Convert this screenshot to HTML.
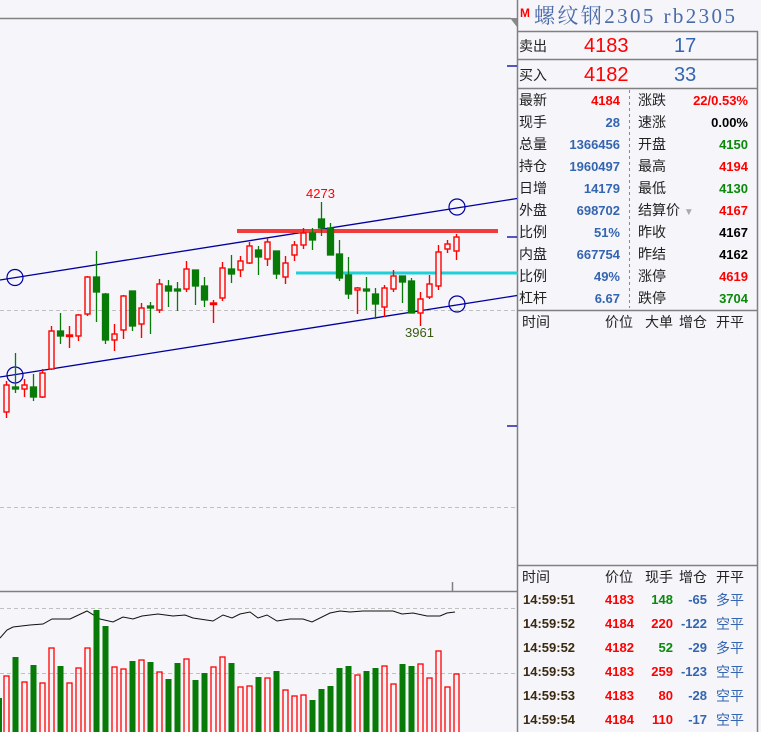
<!DOCTYPE html>
<html><head><meta charset="utf-8"><style>
body{margin:0;width:761px;height:732px;background:#f5f5fa;overflow:hidden;position:relative;font-family:"Liberation Sans","Noto Sans CJK SC",sans-serif}
.t{position:absolute;white-space:nowrap;font-size:14px;line-height:16px}
.l{color:#222}
.v{font-weight:bold;text-align:right;font-size:13px}
.bl{color:#3465b0}.rd{color:#f00}.gr{color:#0a8a0a}.bk{color:#000}.br{color:#3a2a10}
</style></head><body>
<svg width="761" height="732" style="position:absolute;left:0;top:0">
<g stroke="#808080" stroke-width="1.5" fill="none">
<line x1="0" y1="18.5" x2="511" y2="18.5"/>
<line x1="517.5" y1="0" x2="517.5" y2="732"/>
<line x1="757.5" y1="31" x2="757.5" y2="732"/>
<line x1="517" y1="31.5" x2="758" y2="31.5"/>
<line x1="517" y1="59.5" x2="758" y2="59.5"/>
<line x1="517" y1="88.5" x2="758" y2="88.5"/>
<line x1="517" y1="310.5" x2="758" y2="310.5"/>
<line x1="517" y1="565.5" x2="758" y2="565.5"/>
<line x1="0" y1="591.5" x2="517" y2="591.5"/>
<line x1="452.5" y1="582" x2="452.5" y2="591"/>
</g>
<polygon points="510,18 517,18 517,27" fill="#888"/>
<line x1="629.5" y1="90" x2="629.5" y2="308" stroke="#888" stroke-dasharray="3,3"/>
<g stroke="#c0c0c0" stroke-dasharray="4,3">
<line x1="0" y1="310.5" x2="517" y2="310.5"/>
<line x1="0" y1="507.5" x2="517" y2="507.5"/>
<line x1="0" y1="608.5" x2="517" y2="608.5"/>
<line x1="0" y1="673.5" x2="517" y2="673.5"/>
</g>
<g stroke="#0000a0" stroke-width="1.3">
<line x1="507" y1="66" x2="517" y2="66"/>
<line x1="507" y1="237" x2="517" y2="237"/>
<line x1="507" y1="426" x2="517" y2="426"/>
<line x1="0" y1="280" x2="517" y2="198.5"/>
<line x1="0" y1="377" x2="517" y2="295.5"/>
</g>
<g stroke="#0000a0" stroke-width="1.2" fill="none">
<circle cx="15" cy="277.5" r="8"/><circle cx="15" cy="375" r="8"/>
<circle cx="457" cy="207" r="8"/><circle cx="457" cy="304" r="8"/>
</g>
<rect x="237" y="229" width="261" height="4" fill="#f03c3c"/>
<rect x="296" y="271.5" width="222" height="3" fill="#20d0d8"/>
<g stroke="#087a08" fill="#087a08" stroke-width="1.3">
<line x1="15.5" y1="353" x2="15.5" y2="393"/><rect x="12.5" y="387" width="6" height="2"/>
<line x1="33.5" y1="374" x2="33.5" y2="401"/><rect x="30.5" y="387" width="6" height="10"/>
<line x1="60.5" y1="313" x2="60.5" y2="344"/><rect x="57.5" y="331" width="6" height="5"/>
<line x1="96.5" y1="251" x2="96.5" y2="322"/><rect x="93.5" y="277" width="6" height="15"/>
<line x1="105.5" y1="293" x2="105.5" y2="344"/><rect x="102.5" y="294" width="6" height="46"/>
<line x1="132.5" y1="291" x2="132.5" y2="331"/><rect x="129.5" y="291" width="6" height="35"/>
<line x1="150.5" y1="302" x2="150.5" y2="334"/><rect x="147.5" y="306" width="6" height="2"/>
<line x1="168.5" y1="280" x2="168.5" y2="307"/><rect x="165.5" y="286" width="6" height="5"/>
<line x1="177.5" y1="282" x2="177.5" y2="311"/><rect x="174.5" y="289" width="6" height="2"/>
<line x1="195.5" y1="270" x2="195.5" y2="305"/><rect x="192.5" y="270" width="6" height="16"/>
<line x1="204.5" y1="277" x2="204.5" y2="307"/><rect x="201.5" y="286" width="6" height="14"/>
<line x1="231.5" y1="255" x2="231.5" y2="283"/><rect x="228.5" y="269" width="6" height="5"/>
<line x1="258.5" y1="246" x2="258.5" y2="275"/><rect x="255.5" y="250" width="6" height="7"/>
<line x1="276.5" y1="251" x2="276.5" y2="279"/><rect x="273.5" y="251" width="6" height="23"/>
<line x1="312.5" y1="228" x2="312.5" y2="250"/><rect x="309.5" y="233" width="6" height="7"/>
<line x1="321.5" y1="202" x2="321.5" y2="236"/><rect x="318.5" y="219" width="6" height="9"/>
<line x1="330.5" y1="223" x2="330.5" y2="255"/><rect x="327.5" y="228" width="6" height="27"/>
<line x1="339.5" y1="240" x2="339.5" y2="281"/><rect x="336.5" y="254" width="6" height="24"/>
<line x1="348.5" y1="257" x2="348.5" y2="299"/><rect x="345.5" y="275" width="6" height="19"/>
<line x1="366.5" y1="277" x2="366.5" y2="310"/><rect x="363.5" y="289" width="6" height="2"/>
<line x1="375.5" y1="288" x2="375.5" y2="319"/><rect x="372.5" y="294" width="6" height="10"/>
<line x1="402.5" y1="276" x2="402.5" y2="303"/><rect x="399.5" y="276" width="6" height="6"/>
<line x1="411.5" y1="278" x2="411.5" y2="313"/><rect x="408.5" y="281" width="6" height="32"/>
</g>
<g stroke="#f00" fill="#f5f5fa" stroke-width="1.4">
<line x1="6.5" y1="381" x2="6.5" y2="418"/><rect x="4" y="385" width="5" height="27"/>
<line x1="24.5" y1="379" x2="24.5" y2="397"/><rect x="22" y="385" width="5" height="4"/>
<line x1="42.5" y1="369" x2="42.5" y2="398"/><rect x="40" y="373" width="5" height="24"/>
<line x1="51.5" y1="326" x2="51.5" y2="370"/><rect x="49" y="331" width="5" height="38"/>
<line x1="69.5" y1="326" x2="69.5" y2="348"/><rect x="66.5" y="335" width="6" height="1.5" fill="#f00"/>
<line x1="78.5" y1="314" x2="78.5" y2="341"/><rect x="76" y="315" width="5" height="21"/>
<line x1="87.5" y1="276" x2="87.5" y2="316"/><rect x="85" y="277" width="5" height="37"/>
<line x1="114.5" y1="324" x2="114.5" y2="351"/><rect x="112" y="334" width="5" height="6"/>
<line x1="123.5" y1="295" x2="123.5" y2="339"/><rect x="121" y="296" width="5" height="34"/>
<line x1="141.5" y1="303" x2="141.5" y2="338"/><rect x="139" y="308" width="5" height="16"/>
<line x1="159.5" y1="279" x2="159.5" y2="313"/><rect x="157" y="284" width="5" height="26"/>
<line x1="186.5" y1="261" x2="186.5" y2="292"/><rect x="184" y="269" width="5" height="20"/>
<line x1="213.5" y1="300" x2="213.5" y2="323"/><rect x="210.5" y="303" width="6" height="1.5" fill="#f00"/>
<line x1="222.5" y1="262" x2="222.5" y2="301"/><rect x="220" y="268" width="5" height="30"/>
<line x1="240.5" y1="256" x2="240.5" y2="277"/><rect x="238" y="261" width="5" height="9"/>
<line x1="249.5" y1="242" x2="249.5" y2="264"/><rect x="247" y="246" width="5" height="17"/>
<line x1="267.5" y1="238" x2="267.5" y2="266"/><rect x="265" y="242" width="5" height="17"/>
<line x1="285.5" y1="256" x2="285.5" y2="284"/><rect x="283" y="263" width="5" height="14"/>
<line x1="294.5" y1="241" x2="294.5" y2="261"/><rect x="292" y="245" width="5" height="10"/>
<line x1="303.5" y1="228" x2="303.5" y2="249"/><rect x="301" y="233" width="5" height="12"/>
<line x1="357.5" y1="287" x2="357.5" y2="314"/><rect x="355" y="288" width="5" height="2"/>
<line x1="384.5" y1="285" x2="384.5" y2="317"/><rect x="382" y="288" width="5" height="19"/>
<line x1="393.5" y1="270" x2="393.5" y2="292"/><rect x="391" y="276" width="5" height="13"/>
<line x1="420.5" y1="292" x2="420.5" y2="326"/><rect x="418" y="299" width="5" height="14"/>
<line x1="429.5" y1="275" x2="429.5" y2="299"/><rect x="427" y="284" width="5" height="13"/>
<line x1="438.5" y1="245" x2="438.5" y2="290"/><rect x="436" y="252" width="5" height="34"/>
<line x1="447.5" y1="240" x2="447.5" y2="253"/><rect x="445" y="244" width="5" height="5"/>
<line x1="456.5" y1="234" x2="456.5" y2="260"/><rect x="454" y="237" width="5" height="14"/>
</g>
<text x="306" y="198" font-size="13" fill="#f00" font-family="Liberation Sans">4273</text>
<text x="405" y="337" font-size="13" fill="#3a5a10" font-family="Liberation Sans">3961</text>
<polyline fill="none" stroke="#111" stroke-width="1" points="0,638 7,630 13,627 30,625 43,624 52,619 70,619 87,611 100,619 113,622 123,617 133,619 142,616 158,614 173,616 185,615 193,618 213,621 223,615 232,618 240,614 250,612 258,618 267,615 277,621 290,619 303,619 312,622 330,613 340,611 350,612 363,611 393,611 402,614 413,613 427,616 440,616 447,613 455,612"/>
<g fill="#087a08">
<rect x="0" y="698" width="2" height="34"/>
<rect x="12.5" y="657" width="6" height="75"/><rect x="30.5" y="665" width="6" height="67"/>
<rect x="57.5" y="666" width="6" height="66"/><rect x="93.5" y="610" width="6" height="122"/>
<rect x="102.5" y="626" width="6" height="106"/><rect x="129.5" y="661" width="6" height="71"/>
<rect x="147.5" y="662" width="6" height="70"/><rect x="165.5" y="679" width="6" height="53"/>
<rect x="174.5" y="663" width="6" height="69"/><rect x="192.5" y="680" width="6" height="52"/>
<rect x="201.5" y="673" width="6" height="59"/><rect x="228.5" y="663" width="6" height="69"/>
<rect x="255.5" y="677" width="6" height="55"/><rect x="273.5" y="671" width="6" height="61"/>
<rect x="309.5" y="700" width="6" height="32"/><rect x="318.5" y="689" width="6" height="43"/>
<rect x="327.5" y="686" width="6" height="46"/><rect x="336.5" y="668" width="6" height="64"/>
<rect x="345.5" y="666" width="6" height="66"/><rect x="363.5" y="671" width="6" height="61"/>
<rect x="372.5" y="668" width="6" height="64"/><rect x="399.5" y="664" width="6" height="68"/>
<rect x="408.5" y="666" width="6" height="66"/>
</g>
<g fill="none" stroke="#f00" stroke-width="1.3">
<rect x="4" y="676" width="5" height="60"/><rect x="22" y="682" width="5" height="60"/>
<rect x="40" y="683" width="5" height="60"/><rect x="49" y="648" width="5" height="90"/>
<rect x="67" y="683" width="5" height="60"/><rect x="76" y="668" width="5" height="70"/>
<rect x="85" y="648" width="5" height="90"/><rect x="112" y="667" width="5" height="70"/>
<rect x="121" y="669" width="5" height="70"/><rect x="139" y="660" width="5" height="80"/>
<rect x="157" y="672" width="5" height="70"/><rect x="184" y="659" width="5" height="80"/>
<rect x="211" y="667" width="5" height="70"/><rect x="220" y="657" width="5" height="80"/>
<rect x="238" y="687" width="5" height="50"/><rect x="247" y="686" width="5" height="50"/>
<rect x="265" y="678" width="5" height="60"/><rect x="283" y="690" width="5" height="50"/>
<rect x="292" y="696" width="5" height="40"/><rect x="301" y="695" width="5" height="40"/>
<rect x="355" y="675" width="5" height="60"/><rect x="382" y="666" width="5" height="70"/>
<rect x="391" y="684" width="5" height="50"/><rect x="418" y="664" width="5" height="70"/>
<rect x="427" y="678" width="5" height="60"/><rect x="436" y="651" width="5" height="90"/>
<rect x="445" y="687" width="5" height="50"/><rect x="454" y="674" width="5" height="60"/>
</g>
</svg>
<div class="t" style="left:520px;top:5px;color:#f00;font-weight:bold;font-size:12px">M</div>
<div class="t" style="left:534px;top:4px;font-size:21px;line-height:24px;letter-spacing:2.4px;color:#4a6aa8;font-family:'Liberation Serif','Noto Serif CJK SC',serif">螺纹钢2305 rb2305</div>
<div class="t l" style="left:519px;top:38px">卖出</div>
<div class="t rd" style="left:584px;top:35px;font-size:20px;line-height:22px">4183</div>
<div class="t bl" style="left:674px;top:35px;font-size:20px;line-height:22px">17</div>
<div class="t l" style="left:519px;top:67px">买入</div>
<div class="t rd" style="left:584px;top:64px;font-size:20px;line-height:22px">4182</div>
<div class="t bl" style="left:674px;top:64px;font-size:20px;line-height:22px">33</div>

<div class="t l" style="left:519px;top:92px">最新</div><div class="t v rd" style="right:141px;top:93px">4184</div>
<div class="t l" style="left:519px;top:114px">现手</div><div class="t v bl" style="right:141px;top:115px">28</div>
<div class="t l" style="left:519px;top:136px">总量</div><div class="t v bl" style="right:141px;top:137px">1366456</div>
<div class="t l" style="left:519px;top:158px">持仓</div><div class="t v bl" style="right:141px;top:159px">1960497</div>
<div class="t l" style="left:519px;top:180px">日增</div><div class="t v bl" style="right:141px;top:181px">14179</div>
<div class="t l" style="left:519px;top:202px">外盘</div><div class="t v bl" style="right:141px;top:203px">698702</div>
<div class="t l" style="left:519px;top:224px">比例</div><div class="t v bl" style="right:141px;top:225px">51%</div>
<div class="t l" style="left:519px;top:246px">内盘</div><div class="t v bl" style="right:141px;top:247px">667754</div>
<div class="t l" style="left:519px;top:268px">比例</div><div class="t v bl" style="right:141px;top:269px">49%</div>
<div class="t l" style="left:519px;top:290px">杠杆</div><div class="t v bl" style="right:141px;top:291px">6.67</div>

<div class="t l" style="left:638px;top:92px">涨跌</div><div class="t v rd" style="right:13px;top:93px">22/0.53%</div>
<div class="t l" style="left:638px;top:114px">速涨</div><div class="t v bk" style="right:13px;top:115px">0.00%</div>
<div class="t l" style="left:638px;top:136px">开盘</div><div class="t v gr" style="right:13px;top:137px">4150</div>
<div class="t l" style="left:638px;top:158px">最高</div><div class="t v rd" style="right:13px;top:159px">4194</div>
<div class="t l" style="left:638px;top:180px">最低</div><div class="t v gr" style="right:13px;top:181px">4130</div>
<div class="t l" style="left:638px;top:202px">结算价 <span style="color:#aaa;font-size:10px">▼</span></div><div class="t v rd" style="right:13px;top:203px">4167</div>
<div class="t l" style="left:638px;top:224px">昨收</div><div class="t v bk" style="right:13px;top:225px">4167</div>
<div class="t l" style="left:638px;top:246px">昨结</div><div class="t v bk" style="right:13px;top:247px">4162</div>
<div class="t l" style="left:638px;top:268px">涨停</div><div class="t v rd" style="right:13px;top:269px">4619</div>
<div class="t l" style="left:638px;top:290px">跌停</div><div class="t v gr" style="right:13px;top:291px">3704</div>

<div class="t l" style="left:522px;top:314px">时间</div>
<div class="t l" style="left:605px;top:314px">价位</div>
<div class="t l" style="left:645px;top:314px">大单</div>
<div class="t l" style="left:679px;top:314px">增仓</div>
<div class="t l" style="left:716px;top:314px">开平</div>

<div class="t l" style="left:522px;top:569px">时间</div>
<div class="t l" style="left:605px;top:569px">价位</div>
<div class="t l" style="left:645px;top:569px">现手</div>
<div class="t l" style="left:679px;top:569px">增仓</div>
<div class="t l" style="left:716px;top:569px">开平</div>

<div style="position:absolute;left:0;top:592px;width:761px;height:140px">
<div class="t v br" style="left:523px;top:0px;text-align:left">14:59:51</div><div class="t v rd" style="left:605px;top:0px;text-align:left">4183</div><div class="t v gr" style="right:88px;top:0px">148</div><div class="t v bl" style="right:54px;top:0px">-65</div><div class="t bl" style="left:716px;top:0px">多平</div>
<div class="t v br" style="left:523px;top:24px;text-align:left">14:59:52</div><div class="t v rd" style="left:605px;top:24px;text-align:left">4184</div><div class="t v rd" style="right:88px;top:24px">220</div><div class="t v bl" style="right:54px;top:24px">-122</div><div class="t bl" style="left:716px;top:24px">空平</div>
<div class="t v br" style="left:523px;top:48px;text-align:left">14:59:52</div><div class="t v rd" style="left:605px;top:48px;text-align:left">4182</div><div class="t v gr" style="right:88px;top:48px">52</div><div class="t v bl" style="right:54px;top:48px">-29</div><div class="t bl" style="left:716px;top:48px">多平</div>
<div class="t v br" style="left:523px;top:72px;text-align:left">14:59:53</div><div class="t v rd" style="left:605px;top:72px;text-align:left">4183</div><div class="t v rd" style="right:88px;top:72px">259</div><div class="t v bl" style="right:54px;top:72px">-123</div><div class="t bl" style="left:716px;top:72px">空平</div>
<div class="t v br" style="left:523px;top:96px;text-align:left">14:59:53</div><div class="t v rd" style="left:605px;top:96px;text-align:left">4183</div><div class="t v rd" style="right:88px;top:96px">80</div><div class="t v bl" style="right:54px;top:96px">-28</div><div class="t bl" style="left:716px;top:96px">空平</div>
<div class="t v br" style="left:523px;top:120px;text-align:left">14:59:54</div><div class="t v rd" style="left:605px;top:120px;text-align:left">4184</div><div class="t v rd" style="right:88px;top:120px">110</div><div class="t v bl" style="right:54px;top:120px">-17</div><div class="t bl" style="left:716px;top:120px">空平</div>
</div>
</body></html>
